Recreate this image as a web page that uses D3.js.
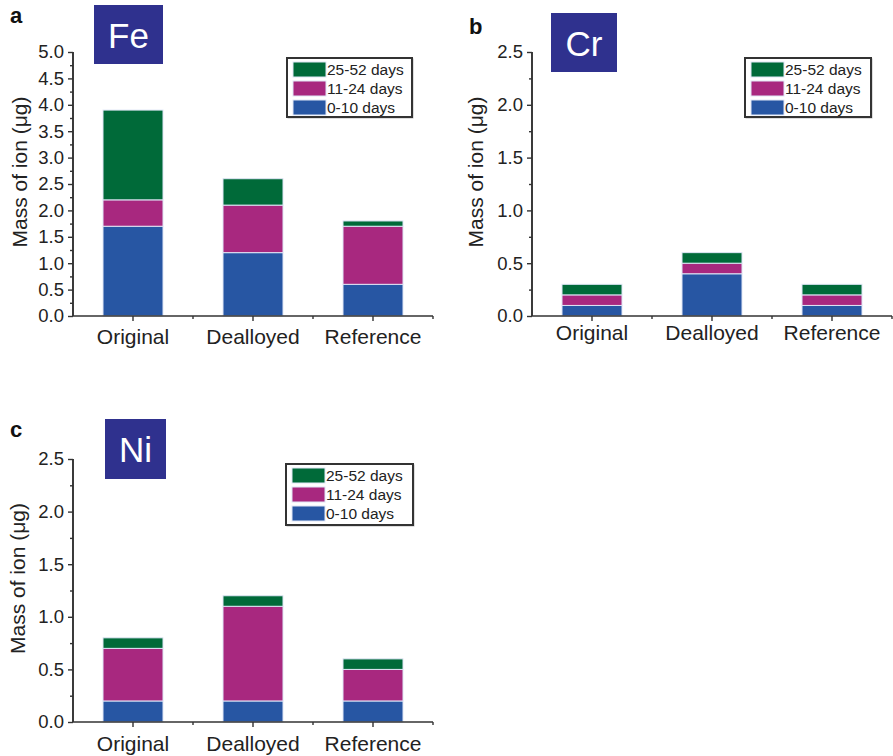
<!DOCTYPE html>
<html><head><meta charset="utf-8">
<script src="https://cdn.jsdelivr.net/npm/d3@7"></script>
<style>body{margin:0;background:#fff}svg{display:block}text{font-family:"Liberation Sans",Arial,Helvetica,sans-serif}</style>
</head><body>
<svg id="chart" width="893" height="756"></svg>
<script>
const categories = ["Original", "Dealloyed", "Reference"];
const seriesNames = ["0-10 days", "11-24 days", "25-52 days"];
const seriesColors = ["#2756a3", "#a8287f", "#006a39"];

const feDays0to10 = [1.7, 1.2, 0.6];
const feDays11to24 = [0.5, 0.9, 1.1];
const feDays25to52 = [1.7, 0.5, 0.1];

const crDays0to10 = [0.1, 0.4, 0.1];
const crDays11to24 = [0.1, 0.1, 0.1];
const crDays25to52 = [0.1, 0.1, 0.1];

const niDays0to10 = [0.2, 0.2, 0.2];
const niDays11to24 = [0.5, 0.9, 0.3];
const niDays25to52 = [0.1, 0.1, 0.1];

const feTicks = [0, 0.5, 1, 1.5, 2, 2.5, 3, 3.5, 4, 4.5, 5];
const smallTicks = [0, 0.5, 1, 1.5, 2, 2.5];
const yLabel = "Mass of ion (\u03bcg)";

const svg = d3.select("#chart");

const panels = [
  {letter:"a", element:"Fe", s:[feDays0to10, feDays11to24, feDays25to52], ticks:feTicks, ymax:5,
   x0:73, x1:433, y0:316, yT:52, letterPos:[10,23], box:[94,5,69,59], legend:[287,58,125,59], catDy:29, yLabX:27},
  {letter:"b", element:"Cr", s:[crDays0to10, crDays11to24, crDays25to52], ticks:smallTicks, ymax:2.5,
   x0:532, x1:892, y0:316, yT:52, letterPos:[469,34], box:[551,13,66,59], legend:[745,58,126,59], catDy:25, yLabX:483},
  {letter:"c", element:"Ni", s:[niDays0to10, niDays11to24, niDays25to52], ticks:smallTicks, ymax:2.5,
   x0:73, x1:433, y0:722, yT:459, letterPos:[10,437], box:[105,419,61,60], legend:[286,464,127,61], catDy:30, yLabX:25}
];

panels.forEach(p => {
  const g = svg.append("g");
  const x = d3.scaleBand().domain(categories).range([p.x0, p.x1]).paddingInner(0.5).paddingOuter(0.25);
  const y = d3.scaleLinear().domain([0, p.ymax]).range([p.y0, p.yT]);

  const rows = categories.map((c, i) => {
    const o = {cat: c};
    seriesNames.forEach((n, k) => o[n] = p.s[k][i]);
    return o;
  });
  const stacked = d3.stack().keys(seriesNames)(rows);

  stacked.forEach((layer, k) => {
    g.selectAll(null).data(layer).enter().append("rect")
      .attr("x", d => x(d.data.cat))
      .attr("width", x.bandwidth())
      .attr("y", d => y(d[1]))
      .attr("height", d => y(d[0]) - y(d[1]))
      .attr("fill", seriesColors[k])
      .attr("stroke", "#dfe6f6")
      .attr("stroke-width", 1);
  });

  // y axis
  const minor = d3.range(0, p.ymax + 0.001, 0.25).filter(v => Math.abs(v / 0.5 - Math.round(v / 0.5)) > 0.01);
  const yMinor = g.append("g").attr("transform", `translate(${p.x0},0)`)
    .call(d3.axisLeft(y).tickValues(minor).tickSize(3).tickFormat(""));
  const yAx = g.append("g").attr("transform", `translate(${p.x0},0)`)
    .call(d3.axisLeft(y).tickValues(p.ticks).tickSize(5).tickPadding(4).tickFormat(d3.format(".1f")));
  [yMinor, yAx].forEach(a => {
    a.select(".domain").attr("stroke", "#333").attr("stroke-width", 1.6).attr("d", `M0,${p.y0}V${p.yT}`);
    a.selectAll(".tick line").attr("stroke", "#333").attr("stroke-width", 1.4);
  });
  yAx.selectAll(".tick text").attr("font-size", 18.5).attr("fill", "#222")
    .attr("font-family", "Liberation Sans, Arial, sans-serif");

  // x axis
  const xAx = g.append("g").attr("transform", `translate(0,${p.y0})`)
    .call(d3.axisBottom(x).tickSize(5).tickPadding(p.catDy - 21));
  xAx.select(".domain").attr("stroke", "#333").attr("stroke-width", 1.6).attr("d", `M${p.x0},0H${p.x1}`);
  xAx.selectAll(".tick line").attr("stroke", "#333").attr("stroke-width", 1.4);
  xAx.selectAll(".tick text").attr("font-size", 21).attr("fill", "#222")
    .attr("font-family", "Liberation Sans, Arial, sans-serif").attr("dy", "0.71em");
  const bounds = categories.slice(1).map(c => x(c) - x.step() * x.paddingInner() / 2).concat([p.x1]);
  g.selectAll(null).data(bounds).enter().append("line")
    .attr("x1", d => d).attr("x2", d => d).attr("y1", p.y0).attr("y2", p.y0 + 3)
    .attr("stroke", "#333").attr("stroke-width", 1.4);

  // y label
  g.append("text")
    .attr("transform", `translate(${p.yLabX},${(p.y0 + p.yT) / 2 - 12}) rotate(-90)`)
    .attr("text-anchor", "middle").attr("font-size", 21).attr("fill", "#222").text(yLabel);

  // panel letter
  g.append("text").attr("x", p.letterPos[0]).attr("y", p.letterPos[1])
    .attr("font-size", 22).attr("font-weight", "bold").attr("fill", "#111").text(p.letter);

  // element box
  g.append("rect").attr("x", p.box[0]).attr("y", p.box[1]).attr("width", p.box[2]).attr("height", p.box[3])
    .attr("fill", "#2f318e");
  g.append("text").attr("x", p.box[0] + p.box[2] / 2).attr("y", p.box[1] + p.box[3] / 2 + 13)
    .attr("text-anchor", "middle").attr("font-size", 35).attr("fill", "#fff").text(p.element);

  // legend
  const [lx, ly, lw, lh] = p.legend;
  g.append("rect").attr("x", lx + 1).attr("y", ly + 1).attr("width", lw).attr("height", lh)
    .attr("fill", "none").attr("stroke", "#bbb").attr("stroke-width", 1);
  g.append("rect").attr("x", lx).attr("y", ly).attr("width", lw).attr("height", lh)
    .attr("fill", "#fff").attr("stroke", "#333").attr("stroke-width", 2);
  const order = [2, 1, 0];
  order.forEach((k, i) => {
    const ry = ly + 4 + i * 19;
    g.append("rect").attr("x", lx + 6).attr("y", ry).attr("width", 33).attr("height", 15)
      .attr("fill", seriesColors[k]).attr("stroke", "#dfe6f6").attr("stroke-width", 1);
    g.append("text").attr("x", lx + 40).attr("y", ry + 13)
      .attr("font-size", 15.5).attr("fill", "#222").text(seriesNames[k]);
  });
});
</script>
</body></html>
